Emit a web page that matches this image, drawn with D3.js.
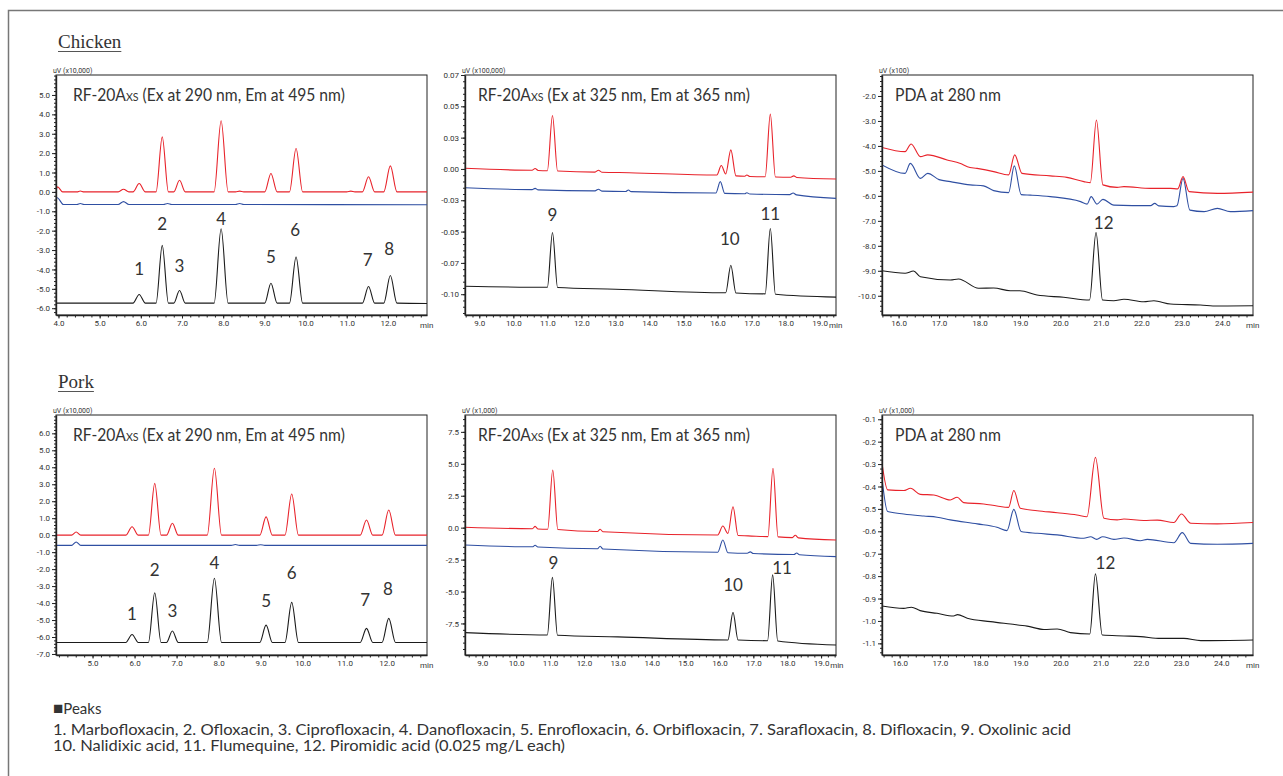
<!DOCTYPE html>
<html>
<head>
<meta charset="utf-8">
<script src="https://cdn.jsdelivr.net/npm/d3@7/dist/d3.min.js"></script>
<style>
  body { margin: 0; background: #fff; }
  svg { display: block; }
  .axis text { font-family: Roboto, sans-serif; font-size: 8px; fill: #333; }
  .axis path, .axis line { stroke: #222; }
</style>
</head>
<body>
<div id="chart"></div>
<script>
// ---- data: [min, signal] ----
const sampleNames = ['Chicken', 'Pork'];
const unitLabels = ['uV (x10,000)', 'uV (x100,000)', 'uV (x100)', 'uV (x10,000)', 'uV (x1,000)', 'uV (x1,000)'];
const detectorTitles = [
  ['RF-20A', 'XS', ' (Ex at 290 nm, Em at 495 nm)'],
  ['RF-20A', 'XS', ' (Ex at 325 nm, Em at 365 nm)'],
  ['PDA at 280 nm', '', '']
];
const peakNames = [
  '1. Marbofloxacin,  2. Ofloxacin,  3. Ciprofloxacin,  4. Danofloxacin,  5. Enrofloxacin,  6. Orbifloxacin,  7. Sarafloxacin,  8. Difloxacin,  9. Oxolinic acid',
  '10. Nalidixic acid,  11. Flumequine,  12. Piromidic acid (0.025 mg/L each)'
];

// chicken, RF 290/495
const ck_a_xDomain = [3.94, 12.95];
const ck_a_yDomain = [-6.35, 6.03];
const ck_a_xTicks = [4, 5, 6, 7, 8, 9, 10, 11, 12];
const ck_a_yTicks = [5, 4, 3, 2, 1, 0, -1, -2, -3, -4, -5, -6];
const ck_a_yLabels = ['5.0', '4.0', '3.0', '2.0', '1.0', '0.0', '-1.0', '-2.0', '-3.0', '-4.0', '-5.0', '-6.0'];
const ck_a_red = [[3.94,0.08],[3.98,0.26],[4.1,0],[4.45,0],[4.53,0.05],[4.62,0],[5.45,0],[5.58,0.14],[5.71,0],[5.81,0],[5.96,0.43],[6.11,0],[6.37,0],[6.52,2.84],[6.67,0],[6.8,0],[6.94,0.6],[7.08,0],[7.78,0],[7.95,3.67],[8.12,0],[8.3,0],[8.4,0.04],[8.5,0],[9.01,0],[9.16,0.95],[9.31,0],[9.61,0],[9.77,2.24],[9.93,0],[11.0,0],[11.1,0.04],[11.2,0],[11.38,0],[11.53,0.78],[11.68,0],[11.9,0],[12.06,1.34],[12.22,0],[12.95,0]];
const ck_a_blue = [[3.94,-0.38],[3.97,-0.3],[4.12,-0.65],[4.45,-0.65],[4.53,-0.6],[4.62,-0.65],[5.45,-0.65],[5.58,-0.5],[5.71,-0.65],[6.55,-0.65],[6.65,-0.6],[6.75,-0.65],[8.3,-0.65],[8.4,-0.6],[8.5,-0.65],[12.95,-0.66]];
const ck_a_black = [[3.94,-5.74],[5.81,-5.74],[5.96,-5.29],[6.11,-5.74],[6.37,-5.74],[6.52,-2.76],[6.67,-5.74],[6.8,-5.74],[6.94,-5.09],[7.08,-5.74],[7.78,-5.74],[7.95,-1.9],[8.12,-5.74],[9.01,-5.74],[9.16,-4.71],[9.31,-5.74],[9.61,-5.74],[9.77,-3.36],[9.93,-5.74],[11.38,-5.74],[11.53,-4.88],[11.68,-5.74],[11.9,-5.74],[12.06,-4.31],[12.22,-5.74],[12.95,-5.76]];
const ck_a_peaks = [[5.96,-4.0,'1'],[6.52,-1.64,'2'],[6.94,-3.83,'3'],[7.95,-1.38,'4'],[9.16,-3.36,'5'],[9.75,-1.98,'6'],[11.51,-3.5,'7'],[12.03,-2.93,'8']];

// chicken, RF 325/365
const ck_b_xDomain = [8.58, 19.48];
const ck_b_yDomain = [-0.1166, 0.075];
const ck_b_xTicks = [9, 10, 11, 12, 13, 14, 15, 16, 17, 18, 19];
const ck_b_yTicks = [0.075, 0.05, 0.025, 0, -0.025, -0.05, -0.075, -0.1];
const ck_b_yLabels = ['0.07', '0.05', '0.03', '0.00', '-0.03', '-0.05', '-0.07', '-0.10'];
const ck_b_red = [[8.58,0.0005],[10.55,-0.001],[10.64,0.0003],[10.73,-0.0012],[11.0,-0.0014],[11.15,0.0427],[11.3,-0.0016],[12.4,-0.0025],[12.5,-0.001],[12.6,-0.0026],[13.4,-0.003],[15.98,-0.0048],[16.11,0.0027],[16.24,-0.004],[16.39,0.0152],[16.54,-0.0055],[16.8,-0.0058],[16.86,-0.0048],[16.95,-0.006],[17.4,-0.0062],[17.55,0.0438],[17.7,-0.0064],[18.15,-0.0066],[18.24,-0.0055],[18.33,-0.0068],[19.48,-0.008]];
const ck_b_blue = [[8.58,-0.015],[10.55,-0.0165],[10.64,-0.0155],[10.73,-0.0167],[12.4,-0.0175],[12.5,-0.0162],[12.6,-0.0177],[13.3,-0.018],[13.38,-0.0168],[13.46,-0.0181],[15.95,-0.0192],[16.08,-0.0101],[16.21,-0.0195],[16.8,-0.0198],[16.86,-0.019],[16.95,-0.02],[18.12,-0.0205],[18.22,-0.0192],[18.32,-0.0207],[19.48,-0.0235]];
const ck_b_black = [[8.58,-0.0937],[11.0,-0.0945],[11.15,-0.0507],[11.3,-0.0947],[13.0,-0.096],[16.24,-0.0988],[16.39,-0.0769],[16.54,-0.099],[17.4,-0.0997],[17.55,-0.0475],[17.7,-0.1],[19.48,-0.1023]];
const ck_b_peaks = [[11.15,-0.0369,'9'],[16.36,-0.0556,'10'],[17.55,-0.036,'11']];

// chicken, PDA 280
const ck_c_xDomain = [15.59, 24.76];
const ck_c_yDomain = [-10.77, -1.16];
const ck_c_xTicks = [16, 17, 18, 19, 20, 21, 22, 23, 24];
const ck_c_yTicks = [-2, -3, -4, -5, -6, -7, -8, -9, -10];
const ck_c_yLabels = ['-2.0', '-3.0', '-4.0', '-5.0', '-6.0', '-7.0', '-8.0', '-9.0', '-10.0'];
const ck_c_red = [[15.59,-4.06],[16.16,-4.23],[16.31,-3.92],[16.54,-4.43],[16.72,-4.36],[17.2,-4.56],[17.53,-4.7],[17.7,-4.83],[17.94,-4.9],[18.35,-5.03],[18.72,-5.16],[18.87,-4.36],[19.05,-5.1],[19.75,-5.2],[20.16,-5.26],[20.58,-5.43],[20.74,-5.47],[20.89,-2.96],[21.05,-5.56],[21.4,-5.66],[21.57,-5.63],[22.23,-5.7],[22.72,-5.7],[22.9,-5.72],[23.03,-5.23],[23.18,-5.83],[23.88,-5.9],[24.76,-5.85]];
const ck_c_blue = [[15.59,-4.76],[16.16,-5.1],[16.29,-4.7],[16.54,-5.3],[16.72,-5.1],[17.0,-5.35],[17.28,-5.43],[17.77,-5.56],[18.1,-5.6],[18.35,-5.79],[18.72,-5.87],[18.86,-4.8],[19.03,-5.95],[19.26,-5.97],[19.75,-6.03],[20.5,-6.23],[20.66,-6.33],[20.76,-6.03],[20.9,-6.33],[21.05,-6.14],[21.32,-6.37],[22.23,-6.39],[22.33,-6.3],[22.43,-6.4],[22.8,-6.43],[22.88,-6.4],[23.03,-5.3],[23.2,-6.57],[23.55,-6.63],[23.88,-6.5],[24.2,-6.63],[24.76,-6.59]];
const ck_c_black = [[15.59,-9.0],[16.16,-9.1],[16.37,-9.01],[16.54,-9.24],[17.28,-9.37],[17.48,-9.33],[17.98,-9.7],[18.35,-9.69],[18.76,-9.8],[19.0,-9.8],[19.42,-9.97],[20.08,-10.06],[20.72,-10.17],[20.88,-7.47],[21.04,-10.17],[21.32,-10.2],[21.57,-10.14],[22.06,-10.24],[22.31,-10.2],[22.72,-10.33],[23.46,-10.37],[23.88,-10.41],[24.76,-10.4]];
const ck_c_peaks = [[21.07,-7.1,'12']];

// pork, RF 290/495
const pk_a_xDomain = [4.13, 12.96];
const pk_a_yDomain = [-7.06, 7.08];
const pk_a_xTicks = [5, 6, 7, 8, 9, 10, 11, 12];
const pk_a_yTicks = [6, 5, 4, 3, 2, 1, 0, -1, -2, -3, -4, -5, -6, -7];
const pk_a_yLabels = ['6.0', '5.0', '4.0', '3.0', '2.0', '1.0', '0.0', '-1.0', '-2.0', '-3.0', '-4.0', '-5.0', '-6.0', '-7.0'];
const pk_a_red = [[4.13,0],[4.5,0],[4.61,0.19],[4.72,0],[5.79,0],[5.94,0.5],[6.09,0],[6.33,0],[6.48,3.05],[6.63,0],[6.76,0],[6.9,0.7],[7.04,0],[7.73,0],[7.9,3.94],[8.07,0],[8.98,0],[9.13,1.08],[9.28,0],[9.58,0],[9.74,2.43],[9.9,0],[11.37,0],[11.52,0.89],[11.67,0],[11.89,0],[12.05,1.48],[12.21,0],[12.96,0]];
const pk_a_blue = [[4.13,-0.6],[4.5,-0.6],[4.61,-0.4],[4.72,-0.6],[8.3,-0.6],[8.4,-0.55],[8.5,-0.6],[8.9,-0.6],[9.0,-0.56],[9.1,-0.6],[12.96,-0.6]];
const pk_a_black = [[4.13,-6.32],[5.79,-6.32],[5.94,-5.85],[6.09,-6.32],[6.33,-6.32],[6.48,-3.39],[6.63,-6.32],[6.76,-6.32],[6.9,-5.65],[7.04,-6.32],[7.73,-6.32],[7.9,-2.54],[8.07,-6.32],[8.98,-6.32],[9.13,-5.3],[9.28,-6.32],[9.58,-6.32],[9.74,-3.96],[9.9,-6.32],[11.37,-6.32],[11.52,-5.49],[11.67,-6.32],[11.89,-6.32],[12.05,-4.9],[12.21,-6.32],[12.96,-6.32]];
const pk_a_peaks = [[5.94,-4.67,'1'],[6.48,-2.05,'2'],[6.9,-4.45,'3'],[7.9,-1.66,'4'],[9.13,-3.88,'5'],[9.74,-2.21,'6'],[11.49,-3.82,'7'],[12.03,-3.17,'8']];

// pork, RF 325/365
const pk_b_xDomain = [8.49, 19.44];
const pk_b_yDomain = [-9.97, 8.82];
const pk_b_xTicks = [9, 10, 11, 12, 13, 14, 15, 16, 17, 18, 19];
const pk_b_yTicks = [7.5, 5, 2.5, 0, -2.5, -5, -7.5];
const pk_b_yLabels = ['7.5', '5.0', '2.5', '0.0', '-2.5', '-5.0', '-7.5'];
const pk_b_red = [[8.49,0.03],[10.48,-0.08],[10.56,0.1],[10.64,-0.1],[10.93,-0.13],[11.08,4.51],[11.23,-0.15],[12.4,-0.3],[12.48,-0.12],[12.56,-0.32],[15.95,-0.57],[16.1,0.13],[16.25,-0.45],[16.4,1.64],[16.55,-0.62],[16.85,-0.64],[17.43,-0.7],[17.58,4.64],[17.73,-0.72],[18.15,-0.78],[18.24,-0.6],[18.33,-0.8],[19.44,-0.97]];
const pk_b_blue = [[8.49,-1.36],[10.48,-1.5],[10.56,-1.38],[10.64,-1.52],[12.4,-1.65],[12.48,-1.45],[12.56,-1.67],[15.95,-1.92],[16.1,-0.97],[16.25,-1.96],[16.82,-2.0],[16.91,-1.9],[17.0,-2.02],[18.2,-2.1],[18.28,-1.98],[18.36,-2.12],[19.44,-2.27]];
const pk_b_black = [[8.49,-8.22],[10.92,-8.4],[11.07,-3.89],[11.22,-8.42],[13.0,-8.55],[16.25,-8.79],[16.4,-6.63],[16.55,-8.8],[17.42,-8.85],[17.57,-3.7],[17.72,-8.87],[19.44,-9.19]];
const pk_b_peaks = [[11.1,-2.79,'9'],[16.4,-4.49,'10'],[17.85,-3.18,'11']];

// pork, PDA 280
const pk_c_xDomain = [15.56, 24.79];
const pk_c_yDomain = [-1.152, -0.081];
const pk_c_xTicks = [16, 17, 18, 19, 20, 21, 22, 23, 24];
const pk_c_yTicks = [-0.1, -0.2, -0.3, -0.4, -0.5, -0.6, -0.7, -0.8, -0.9, -1.0, -1.1];
const pk_c_yLabels = ['-0.1', '-0.2', '-0.3', '-0.4', '-0.5', '-0.6', '-0.7', '-0.8', '-0.9', '-1.0', '-1.1'];
const pk_c_red = [[15.56,-0.296],[15.7,-0.415],[16.1,-0.418],[16.27,-0.408],[16.51,-0.435],[16.85,-0.438],[17.26,-0.46],[17.43,-0.448],[17.59,-0.472],[18.09,-0.478],[18.42,-0.487],[18.71,-0.493],[18.84,-0.418],[19.0,-0.497],[19.42,-0.508],[19.92,-0.517],[20.41,-0.527],[20.66,-0.535],[20.87,-0.27],[21.08,-0.542],[21.41,-0.549],[21.58,-0.545],[22.07,-0.552],[22.41,-0.55],[22.82,-0.561],[23.01,-0.523],[23.24,-0.564],[23.9,-0.567],[24.79,-0.561]];
const pk_c_blue = [[15.56,-0.363],[15.7,-0.512],[16.1,-0.523],[16.6,-0.532],[16.93,-0.537],[17.26,-0.549],[17.93,-0.567],[18.42,-0.582],[18.67,-0.597],[18.84,-0.502],[19.02,-0.601],[19.42,-0.609],[19.92,-0.616],[20.58,-0.631],[20.75,-0.624],[20.9,-0.636],[21.05,-0.624],[21.33,-0.636],[21.58,-0.63],[21.99,-0.642],[22.16,-0.636],[22.82,-0.651],[23.03,-0.606],[23.24,-0.654],[23.9,-0.658],[24.79,-0.654]];
const pk_c_black = [[15.56,-0.933],[16.1,-0.944],[16.29,-0.939],[16.51,-0.954],[16.93,-0.966],[17.34,-0.978],[17.44,-0.972],[17.68,-0.988],[18.26,-1.003],[18.76,-1.014],[19.17,-1.023],[19.59,-1.038],[19.92,-1.036],[20.25,-1.052],[20.73,-1.058],[20.87,-0.79],[21.04,-1.063],[21.58,-1.067],[21.99,-1.07],[22.49,-1.078],[23.07,-1.078],[23.49,-1.088],[24.79,-1.085]];
const pk_c_peaks = [[21.12,-0.74,'12']];

// panel table built from the arrays above
const panels = [
  { row: 0, col: 0, x: ck_a_xDomain, y: ck_a_yDomain, xt: ck_a_xTicks, yt: ck_a_yTicks, yl: ck_a_yLabels, red: ck_a_red, blue: ck_a_blue, black: ck_a_black, peaks: ck_a_peaks },
  { row: 0, col: 1, x: ck_b_xDomain, y: ck_b_yDomain, xt: ck_b_xTicks, yt: ck_b_yTicks, yl: ck_b_yLabels, red: ck_b_red, blue: ck_b_blue, black: ck_b_black, peaks: ck_b_peaks },
  { row: 0, col: 2, x: ck_c_xDomain, y: ck_c_yDomain, xt: ck_c_xTicks, yt: ck_c_yTicks, yl: ck_c_yLabels, red: ck_c_red, blue: ck_c_blue, black: ck_c_black, peaks: ck_c_peaks },
  { row: 1, col: 0, x: pk_a_xDomain, y: pk_a_yDomain, xt: pk_a_xTicks, yt: pk_a_yTicks, yl: pk_a_yLabels, red: pk_a_red, blue: pk_a_blue, black: pk_a_black, peaks: pk_a_peaks },
  { row: 1, col: 1, x: pk_b_xDomain, y: pk_b_yDomain, xt: pk_b_xTicks, yt: pk_b_yTicks, yl: pk_b_yLabels, red: pk_b_red, blue: pk_b_blue, black: pk_b_black, peaks: pk_b_peaks },
  { row: 1, col: 2, x: pk_c_xDomain, y: pk_c_yDomain, xt: pk_c_xTicks, yt: pk_c_yTicks, yl: pk_c_yLabels, red: pk_c_red, blue: pk_c_blue, black: pk_c_black, peaks: pk_c_peaks }
];

// ---- layout ----
const svg_width = 1283, svg_height = 776;
const panel_w = 371, panel_h = 240;
const col_left = [56, 465, 882];
const row_top = [75, 415];
const trace_colors = { red: '#e8232b', blue: '#2f4fa2', black: '#1b1b1b' };

const svg = d3.select('#chart').append('svg')
  .attr('width', svg_width).attr('height', svg_height);

// outer frame (runs off the right and bottom edge)
svg.append('rect')
  .attr('x', 8.5).attr('y', 10.5).attr('width', 1320).attr('height', 820)
  .attr('fill', 'none').attr('stroke', '#777').attr('stroke-width', 1.5);

// section headings
sampleNames.forEach((name, i) => {
  const t = svg.append('text')
    .attr('x', 58).attr('y', row_top[i] - 27)
    .style('font-family', '"Liberation Serif", serif').style('font-size', '19px').style('fill', '#333')
    .text(name);
  const w = t.node().getComputedTextLength();
  svg.append('line')
    .attr('x1', 58).attr('x2', 58 + w)
    .attr('y1', row_top[i] - 23.5).attr('y2', row_top[i] - 23.5)
    .attr('stroke', '#555').attr('stroke-width', 1);
});

function minorTicks(domain, ticks) {
  const step = Math.abs(ticks[1] - ticks[0]) / 5;
  const start = Math.ceil(domain[0] / step - 1e-6);
  const out = [];
  for (let k = start; k * step <= domain[1] + 1e-9; k++) out.push(k * step);
  return out;
}

function drawPanel(p, i) {
  const left = col_left[p.col], top = row_top[p.row];
  const g = svg.append('g').attr('transform', `translate(${left},${top})`);

  const xScale = d3.scaleLinear().domain(p.x).range([0, panel_w]);
  const yScale = d3.scaleLinear().domain(p.y).range([panel_h, 0]);

  // frame (top and right edges show)
  g.append('rect').attr('width', panel_w).attr('height', panel_h)
    .attr('fill', 'none').attr('stroke', '#222').attr('stroke-width', 1);

  // traces
  g.append('clipPath').attr('id', 'clip' + i)
    .append('rect').attr('width', panel_w).attr('height', panel_h);
  const line = d3.line()
    .x(d => xScale(d[0])).y(d => yScale(d[1]))
    .curve(d3.curveMonotoneX);
  ['blue', 'red', 'black'].forEach(key => {
    g.append('path').datum(p[key])
      .attr('clip-path', `url(#clip${i})`)
      .attr('d', line)
      .attr('fill', 'none')
      .attr('stroke', trace_colors[key])
      .attr('stroke-width', 1.1)
      .attr('stroke-linejoin', 'round');
  });

  // peak numbers
  g.selectAll('.peak').data(p.peaks).enter().append('text')
    .attr('class', 'peak')
    .attr('x', d => xScale(d[0])).attr('y', d => yScale(d[1]))
    .attr('dy', '0.35em').attr('text-anchor', 'middle')
    .style('font-family', 'Lato, sans-serif').style('font-size', '17px').style('fill', '#333')
    .text(d => d[2]);

  // y axis
  const yMinor = d3.axisLeft(yScale).tickValues(minorTicks(p.y, p.yt))
    .tickSize(2).tickFormat('').tickSizeOuter(0);
  g.append('g').attr('class', 'axis').call(yMinor).select('.domain').remove();
  const yAxis = d3.axisLeft(yScale).tickValues(p.yt)
    .tickFormat((d, k) => p.yl[k]).tickSize(4).tickPadding(2).tickSizeOuter(0);
  const yDraw = g.append('g').attr('class', 'axis').call(yAxis);
  yDraw.select('.domain').attr('stroke-width', 1.4);

  // x axis
  const xMinor = d3.axisBottom(xScale).tickValues(minorTicks(p.x, p.xt))
    .tickSize(2.5).tickFormat('').tickSizeOuter(0);
  g.append('g').attr('class', 'axis').attr('transform', `translate(0,${panel_h})`)
    .call(xMinor).select('.domain').remove();
  const xAxis = d3.axisBottom(xScale).tickValues(p.xt)
    .tickFormat(d3.format('.1f')).tickSize(3.5).tickPadding(1.5).tickSizeOuter(0);
  const xDraw = g.append('g').attr('class', 'axis').attr('transform', `translate(0,${panel_h})`).call(xAxis);
  xDraw.select('.domain').attr('stroke-width', 1.4);

  // "min" sits just after the last tick label
  const lastLabel = xDraw.selectAll('.tick text').nodes().pop();
  const lastBox = lastLabel.getBBox();
  const lastX = xScale(p.xt[p.xt.length - 1]);
  g.append('text')
    .attr('x', Math.max(panel_w - 7, lastX + lastBox.width / 2 + 1)).attr('y', panel_h + 12.5)
    .style('font-family', 'Roboto, sans-serif').style('font-size', '8px').style('fill', '#333')
    .text('min');

  // unit label above the y axis
  g.append('text')
    .attr('x', -3).attr('y', -2)
    .style('font-family', 'Roboto, sans-serif').style('font-size', '7px').style('fill', '#333')
    .text(unitLabels[i]);

  // detector title
  const tt = detectorTitles[p.col];
  const title = g.append('text')
    .attr('x', p.col === 0 ? 17 : 13).attr('y', 26)
    .style('font-family', 'Lato, sans-serif').style('font-size', '17px').style('fill', '#333');
  title.append('tspan').text(tt[0]);
  if (tt[1]) title.append('tspan').style('font-size', '11.5px').text(tt[1]);
  if (tt[2]) title.append('tspan').text(tt[2]);
  const target = p.col === 2 ? 106 : 272;
  const w = title.node().getComputedTextLength();
  const tx = +title.attr('x');
  title.attr('transform', `translate(${tx},0) scale(${target / w},1) translate(${-tx},0)`);
}

panels.forEach(drawPanel);

// peak list under the chart
const notes = svg.append('g').style('font-family', 'Lato, sans-serif').style('fill', '#333')
  .style('white-space', 'pre');
const head = notes.append('text').attr('x', 53).attr('y', 714).style('font-size', '15px');
head.append('tspan').style('font-size', '17px').text('\u25A0');
head.append('tspan').text('Peaks');
notes.append('text').attr('x', 53).attr('y', 735).style('font-size', '15px')
  .attr('textLength', 1018).attr('lengthAdjust', 'spacingAndGlyphs').text(peakNames[0]);
notes.append('text').attr('x', 53).attr('y', 751).style('font-size', '15px')
  .attr('textLength', 512).attr('lengthAdjust', 'spacingAndGlyphs').text(peakNames[1]);
</script>
</body>
</html>
